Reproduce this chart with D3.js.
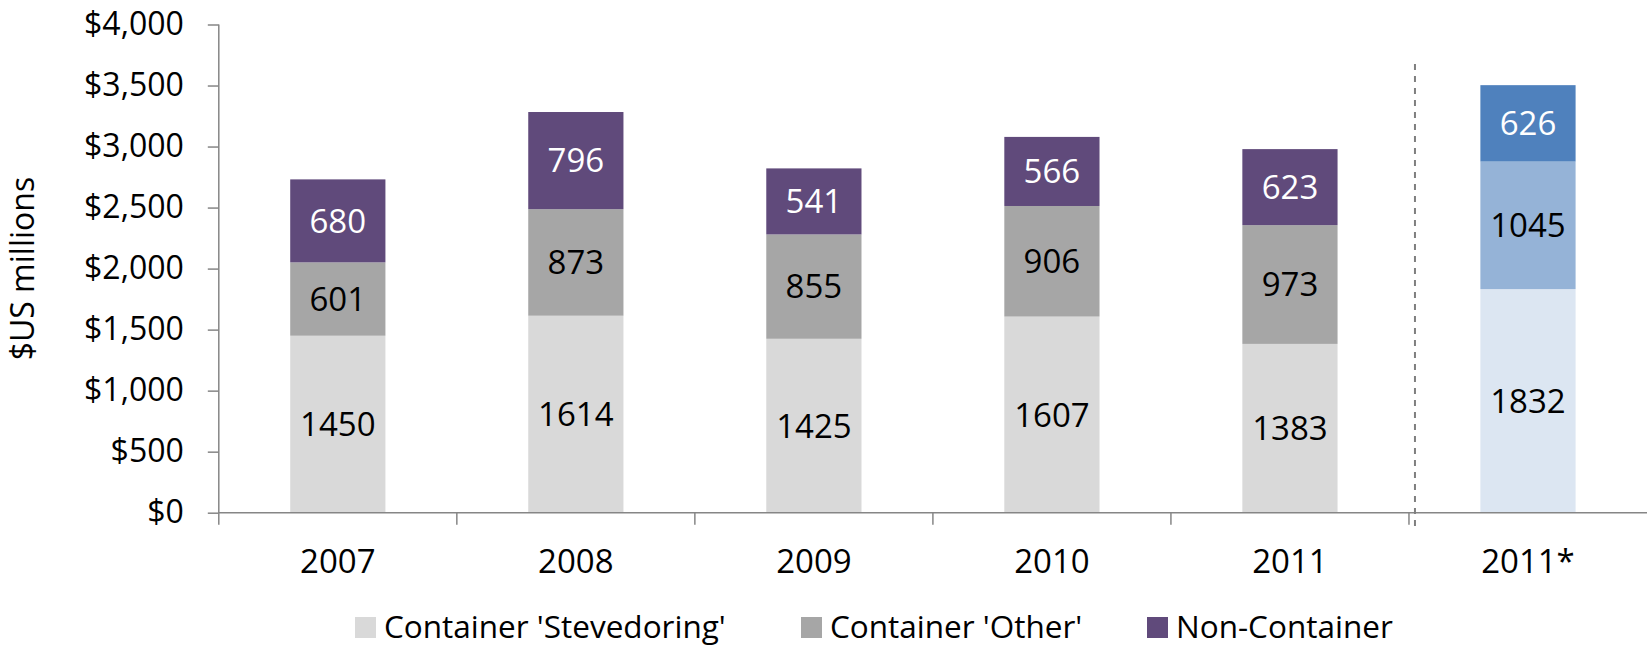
<!DOCTYPE html>
<html>
<head>
<meta charset="utf-8">
<script src="https://cdn.jsdelivr.net/npm/d3@7"></script>
<style>
  body { margin: 0; background: #fff; }
  svg text { font-family: "Open Sans", sans-serif; }
</style>
</head>
<body>
<svg id="chart" width="1647" height="647"></svg>
<script>
// data
var years = ["2007", "2008", "2009", "2010", "2011", "2011*"];
var stevedoring = [1450, 1614, 1425, 1607, 1383, 1832];
var other = [601, 873, 855, 906, 973, 1045];
var nonContainer = [680, 796, 541, 566, 623, 626];
var seriesNames = ["Container 'Stevedoring'", "Container 'Other'", "Non-Container"];
var yTicks = [0, 500, 1000, 1500, 2000, 2500, 3000, 3500, 4000];

// colours: normal years and the forecast bar
var colors = ["#d9d9d9", "#a6a6a6", "#604a7b"];
var colorsStar = ["#dce6f2", "#95b3d7", "#4f81bd"];
var labelColors = ["#000", "#000", "#fff"];

var svg = d3.select("#chart");
var plotLeft = 218.8, plotRight = 1647, plotTop = 24.5, plotBottom = 512.7;

var x = d3.scaleBand()
  .domain(years)
  .range([plotLeft, plotRight])
  .paddingInner(0.6)
  .paddingOuter(0.3);

var y = d3.scaleLinear()
  .domain([0, 4000])
  .range([plotBottom, plotTop]);

// build rows for the stack
var rows = years.map(function(yr, i) {
  return { year: yr, s0: stevedoring[i], s1: other[i], s2: nonContainer[i] };
});
var stack = d3.stack().keys(["s0", "s1", "s2"]);
var layers = stack(rows);

// bars
layers.forEach(function(layer, k) {
  svg.append("g")
    .selectAll("rect")
    .data(layer)
    .enter()
    .append("rect")
    .attr("x", function(d) { return x(d.data.year); })
    .attr("y", function(d) { return y(d[1]); })
    .attr("width", x.bandwidth())
    .attr("height", function(d) { return y(d[0]) - y(d[1]); })
    .attr("fill", function(d) { return d.data.year == "2011*" ? colorsStar[k] : colors[k]; });

  svg.append("g")
    .selectAll("text")
    .data(layer)
    .enter()
    .append("text")
    .attr("x", function(d) { return x(d.data.year) + x.bandwidth() / 2; })
    .attr("y", function(d) { return (y(d[0]) + y(d[1])) / 2; })
    .attr("dy", "0.36em")
    .attr("text-anchor", "middle")
    .style("font-size", "33px")
    .attr("fill", labelColors[k])
    .text(function(d) { return d[1] - d[0]; });
});

// y axis
var yAxis = d3.axisLeft(y)
  .tickValues(yTicks)
  .tickSize(11)
  .tickPadding(24)
  .tickFormat(function(d) { return "$" + d3.format(",")(d); });

var gy = svg.append("g")
  .attr("transform", "translate(" + plotLeft + ",0)")
  .call(yAxis);
gy.select(".domain").remove();
gy.selectAll("line").attr("stroke", "#868686").attr("stroke-width", 1.5);
gy.selectAll("text")
  .style("font-size", "32px")
  .attr("fill", "#000");

svg.append("line")
  .attr("x1", plotLeft).attr("x2", plotLeft)
  .attr("y1", plotTop).attr("y2", plotBottom + 12)
  .attr("stroke", "#868686").attr("stroke-width", 1.5);

// x axis line and boundary ticks
svg.append("line")
  .attr("x1", plotLeft).attr("x2", plotRight)
  .attr("y1", plotBottom).attr("y2", plotBottom)
  .attr("stroke", "#868686").attr("stroke-width", 1.5);

var step = x.step();
var bounds = d3.range(1, years.length).map(function(i) {
  return x(years[i]) - (step - x.bandwidth()) / 2;
});
svg.append("g")
  .selectAll("line")
  .data(bounds)
  .enter()
  .append("line")
  .attr("x1", function(d) { return d; })
  .attr("x2", function(d) { return d; })
  .attr("y1", plotBottom)
  .attr("y2", plotBottom + 12)
  .attr("stroke", "#868686")
  .attr("stroke-width", 1.5);

// x labels
svg.append("g")
  .selectAll("text")
  .data(years)
  .enter()
  .append("text")
  .attr("x", function(d) { return x(d) + x.bandwidth() / 2; })
  .attr("y", 573)
  .attr("text-anchor", "middle")
  .style("font-size", "33px")
  .text(function(d) { return d; });

// dashed separator before the 2011* bar
var sepX = bounds[bounds.length - 1] + 6;
svg.append("line")
  .attr("x1", sepX).attr("x2", sepX)
  .attr("y1", 64).attr("y2", 529)
  .attr("stroke", "#7f7f7f")
  .attr("stroke-width", 2)
  .attr("stroke-dasharray", "6,6");

// y title
svg.append("text")
  .attr("transform", "translate(34," + ((plotTop + plotBottom) / 2) + ") rotate(-90)")
  .attr("text-anchor", "middle")
  .style("font-size", "32px")
  .text("$US millions");

// legend
var legendX = [355, 801, 1147];
var legend = svg.append("g");
seriesNames.forEach(function(name, i) {
  legend.append("rect")
    .attr("x", legendX[i])
    .attr("y", 617)
    .attr("width", 21)
    .attr("height", 21)
    .attr("fill", colors[i]);
  legend.append("text")
    .attr("x", legendX[i] + 29)
    .attr("y", 638)
    .style("font-size", "31.5px")
    .text(name);
});
</script>
</body>
</html>
